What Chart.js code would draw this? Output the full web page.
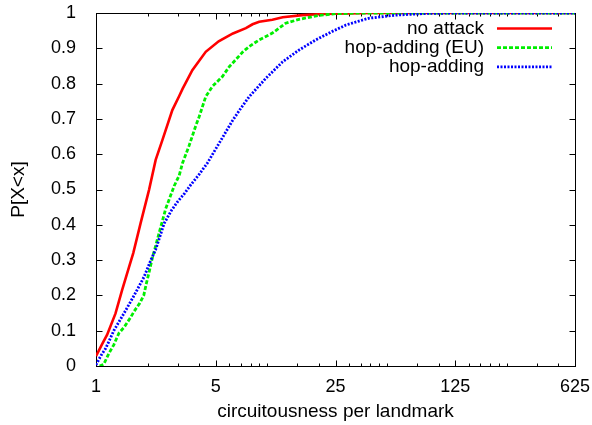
<!DOCTYPE html>
<html>
<head>
<meta charset="utf-8">
<script src="https://cdn.jsdelivr.net/npm/chart.js@4/dist/chart.umd.min.js"></script>
<style>
  html, body { margin: 0; padding: 0; background: #fff; }
  #wrap { width: 592px; height: 425px; }
</style>
</head>
<body>
<div id="wrap"><canvas id="cdfChart" width="592" height="425"></canvas></div>
<script>
// x ticks (log base 5) and the small in-between marks
const xTicks = [1, 5, 25, 125, 625];
const xMinorTicks = [2, 3, 4, 6, 7, 8, 9, 10, 15, 20, 30, 35, 40, 45, 50, 75, 100,
  150, 175, 200, 225, 250, 375, 500];

const seriesLabels = ['no attack', 'hop-adding (EU)', 'hop-adding'];

// CDF of circuitousness per landmark
const noAttackX = [1, 1.08, 1.16, 1.3, 1.42, 1.56, 1.65, 1.82, 2.04, 2.23, 2.44, 2.79, 3.06,
  3.2, 3.65, 4.37, 5.2, 6.3, 7.5, 8.2, 8.97, 10.7, 12.3, 16, 21, 30, 40, 625];
const noAttackCdf = [0.028, 0.06, 0.088, 0.149, 0.215, 0.281, 0.32, 0.404, 0.499, 0.584, 0.64,
  0.725, 0.765, 0.785, 0.838, 0.89, 0.92, 0.942, 0.957, 0.968, 0.975, 0.981, 0.988, 0.994,
  0.997, 0.999, 1, 1];

const euX = [1.05, 1.11, 1.19, 1.27, 1.36, 1.46, 1.58, 1.67, 1.8, 1.9, 1.97, 2.04, 2.13, 2.2,
  2.33, 2.55, 2.86, 3.06, 3.2, 3.5, 3.82, 4.0, 4.37, 4.78, 5.47, 6.0, 6.55, 7.2, 7.84, 8.97,
  10.7, 12.8, 15.3, 20, 25, 35, 625];
const euCdf = [0, 0.005, 0.036, 0.06, 0.093, 0.11, 0.135, 0.155, 0.178, 0.2, 0.235, 0.265,
  0.305, 0.33, 0.375, 0.445, 0.51, 0.54, 0.575, 0.625, 0.68, 0.706, 0.763, 0.792, 0.82, 0.848,
  0.868, 0.89, 0.905, 0.924, 0.943, 0.971, 0.982, 0.993, 0.998, 1, 1];

const hopX = [1, 1.07, 1.14, 1.27, 1.46, 1.67, 1.91, 2.09, 2.23, 2.5, 2.75, 2.99, 3.3, 3.57,
  4.0, 4.47, 5.0, 5.6, 6.26, 7.0, 7.84, 9.8, 12.3, 15.3, 19.2, 24, 28.8, 39, 56, 88, 150, 625];
const hopCdf = [0.003, 0.03, 0.05, 0.1, 0.15, 0.2, 0.253, 0.3, 0.33, 0.404, 0.44, 0.465, 0.49,
  0.513, 0.543, 0.575, 0.615, 0.655, 0.695, 0.73, 0.763, 0.815, 0.862, 0.895, 0.924, 0.948,
  0.966, 0.985, 0.994, 0.999, 1, 1];

function toPoints(xs, ys) {
  return xs.map((x, i) => ({ x, y: ys[i] }));
}

const FONT = '"Liberation Sans", Arial, Helvetica, sans-serif';

// gnuplot-style frame with inward ticks on all four sides
const framePlugin = {
  id: 'frame',
  beforeDatasetsDraw(chart) {
    const { ctx, chartArea: a, scales: { x, y } } = chart;
    const L = Math.round(a.left) + 0.5, R = Math.round(a.right) + 0.5;
    const T = Math.round(a.top) + 0.5, B = Math.round(a.bottom) + 0.5;
    ctx.save();
    ctx.strokeStyle = '#000';
    ctx.lineWidth = 1;
    ctx.beginPath();
    const xTick = (v, len) => {
      const px = Math.round(x.getPixelForValue(v)) + 0.5;
      ctx.moveTo(px, B); ctx.lineTo(px, B - len);
      ctx.moveTo(px, T); ctx.lineTo(px, T + len);
    };
    xTicks.forEach(v => xTick(v, 6));
    xMinorTicks.forEach(v => xTick(v, 3));
    y.ticks.forEach(t => {
      const py = Math.round(y.getPixelForValue(t.value)) + 0.5;
      ctx.moveTo(L, py); ctx.lineTo(L + 6, py);
      ctx.moveTo(R, py); ctx.lineTo(R - 6, py);
    });
    ctx.stroke();
    ctx.strokeRect(L, T, R - L, B - T);
    ctx.restore();
  }
};

// key in the top right corner: label right-aligned, line sample after it
const keyPlugin = {
  id: 'key',
  afterDatasetsDraw(chart) {
    const { ctx, chartArea: a } = chart;
    ctx.save();
    ctx.font = '19px ' + FONT;
    ctx.textAlign = 'right';
    ctx.textBaseline = 'middle';
    chart.data.datasets.forEach((ds, i) => {
      const yy = a.top + 15.5 + i * 19.2;
      ctx.fillStyle = '#000';
      ctx.fillText(ds.label, a.right - 91, yy);
      ctx.strokeStyle = ds.borderColor;
      ctx.lineWidth = ds.borderWidth;
      ctx.setLineDash(ds.borderDash || []);
      ctx.beginPath();
      ctx.moveTo(a.right - 78, yy);
      ctx.lineTo(a.right - 23, yy);
      ctx.stroke();
    });
    ctx.restore();
  }
};

new Chart(document.getElementById('cdfChart'), {
  type: 'line',
  data: {
    datasets: [
      {
        label: seriesLabels[0],
        data: toPoints(noAttackX, noAttackCdf),
        borderColor: '#ff0000',
        borderWidth: 2.6,
        order: 2
      },
      {
        label: seriesLabels[1],
        data: toPoints(euX, euCdf),
        borderColor: '#00ee00',
        borderWidth: 2.8,
        borderDash: [4, 2],
        order: 1
      },
      {
        label: seriesLabels[2],
        data: toPoints(hopX, hopCdf),
        borderColor: '#0000ff',
        borderWidth: 2.8,
        borderDash: [2, 1.5],
        order: 0
      }
    ]
  },
  options: {
    responsive: false,
    animation: false,
    events: [],
    elements: {
      point: { radius: 0 },
      line: { tension: 0, borderCapStyle: 'butt', fill: false }
    },
    layout: { padding: { top: 13, right: 17, left: 0, bottom: 0 } },
    plugins: {
      legend: { display: false },
      tooltip: { enabled: false }
    },
    scales: {
      x: {
        type: 'logarithmic',
        min: 1,
        max: 625,
        grid: { display: false },
        border: { display: false },
        afterBuildTicks: s => { s.ticks = xTicks.map(v => ({ value: v })); },
        afterFit: s => {
          s.height = 59;
          s.paddingLeft = 0;
          s.paddingRight = 0;
        },
        ticks: {
          color: '#000',
          font: { family: FONT, size: 18 },
          padding: 2,
          maxRotation: 0,
          autoSkip: false,
          callback: v => String(v)
        },
        title: {
          display: true,
          text: 'circuitousness per landmark',
          color: '#000',
          font: { family: FONT, size: 19 },
          padding: { top: 0, bottom: 2 }
        }
      },
      y: {
        min: 0,
        max: 1,
        grid: { display: false },
        border: { display: false },
        afterFit: s => {
          s.width = 96;
          s.paddingTop = 0;
          s.paddingBottom = 0;
        },
        ticks: {
          stepSize: 0.1,
          color: '#000',
          font: { family: FONT, size: 18 },
          padding: 12,
          callback: v => String(Math.round(v * 10) / 10)
        },
        title: {
          display: true,
          text: 'P[X<x]',
          color: '#000',
          font: { family: FONT, size: 19 },
          padding: { top: 7, bottom: 0 }
        }
      }
    }
  },
  plugins: [framePlugin, keyPlugin]
});
</script>
</body>
</html>
